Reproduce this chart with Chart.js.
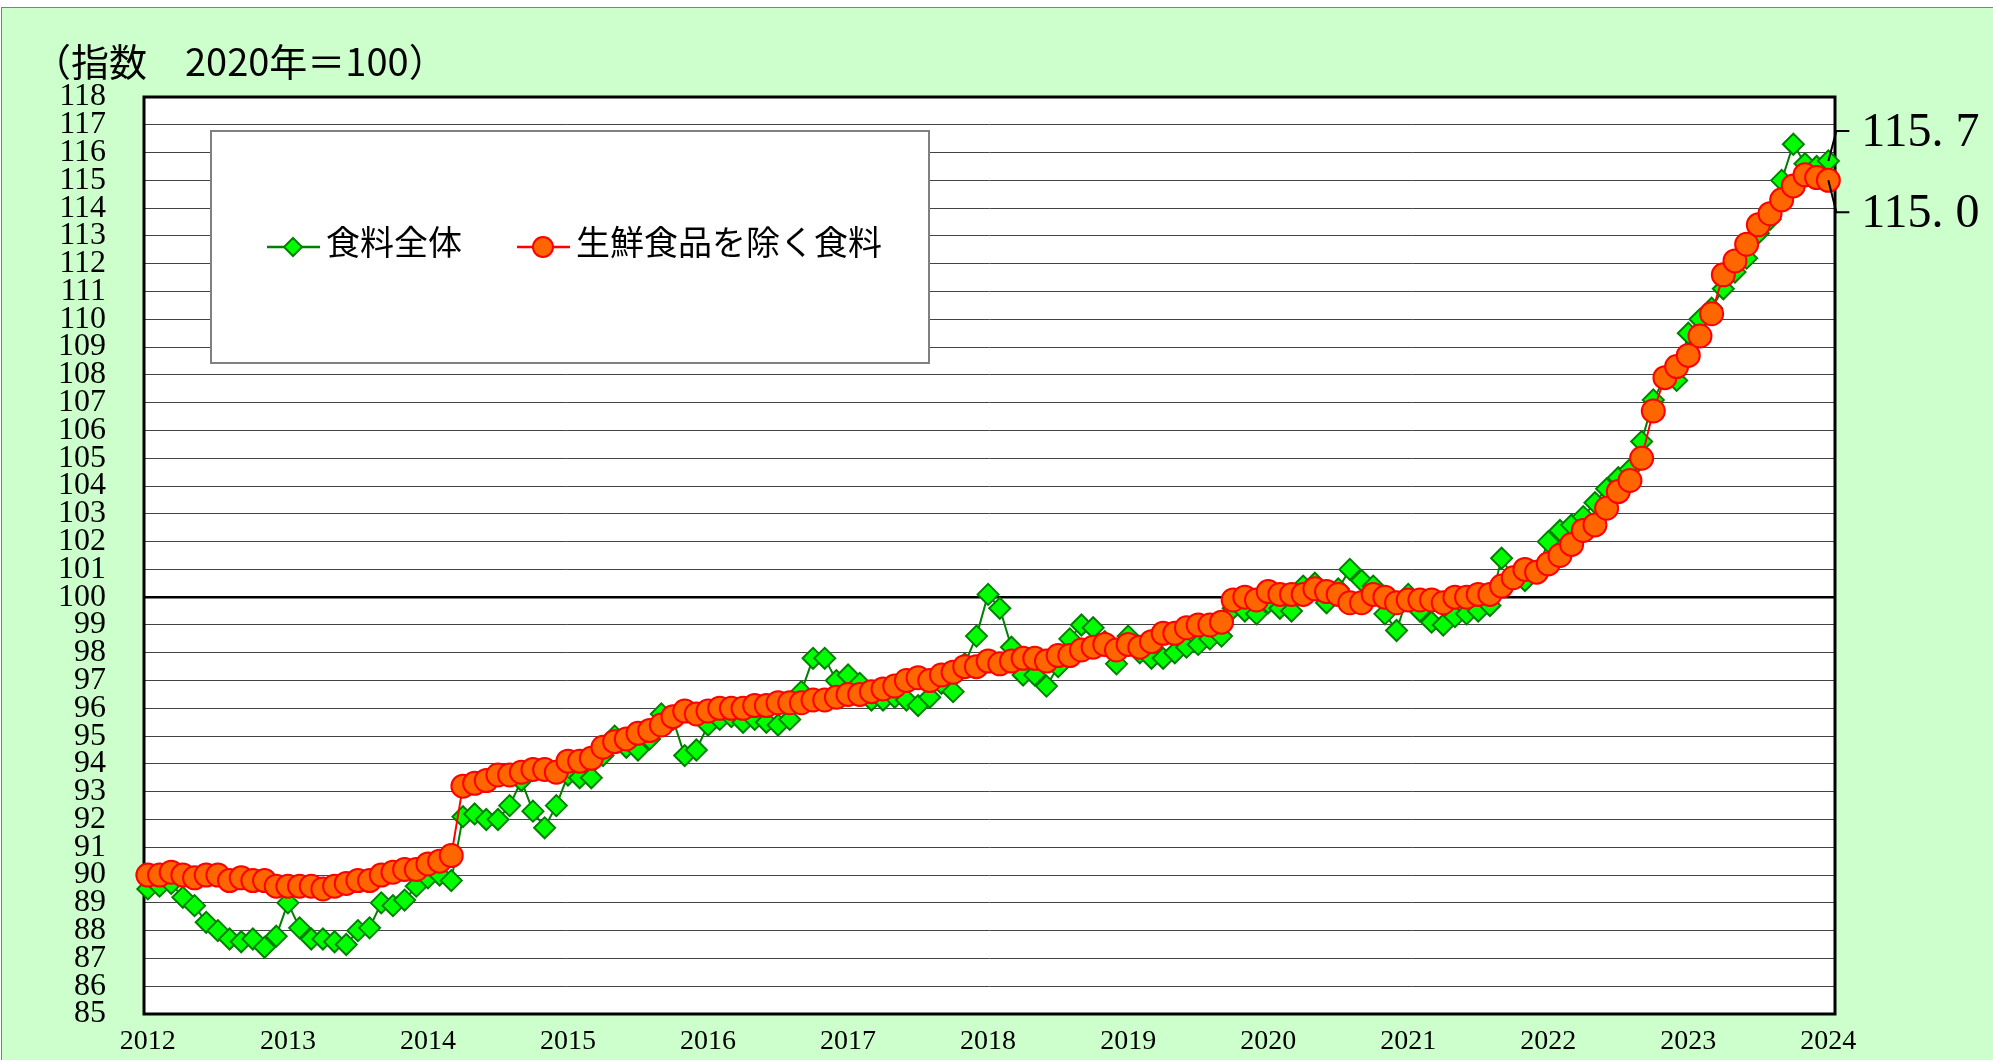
<!DOCTYPE html>
<html>
<head>
<meta charset="utf-8">
<script src="https://cdn.jsdelivr.net/npm/chart.js@4/dist/chart.umd.min.js"></script>
<style>
  html, body { margin: 0; padding: 0; background: #fff; }
  canvas { display: block; }
</style>
</head>
<body>
<canvas id="food" width="1993" height="1060"></canvas>
<script>
// 消費者物価指数（食料） 2020年=100, 月次 2012/01〜2024/01
const years = ['2012', '2013', '2014', '2015', '2016', '2017', '2018', '2019', '2020', '2021', '2022', '2023', '2024'];
const monthNames = ['01', '02', '03', '04', '05', '06', '07', '08', '09', '10', '11', '12'];

// 食料全体
const foodAll = [
  89.5, 89.6, 89.7, 89.2, 88.9, 88.3, 88.0, 87.7, 87.6, 87.7, 87.4, 87.8,
  89.0, 88.1, 87.7, 87.7, 87.6, 87.5, 88.0, 88.1, 89.0, 88.9, 89.1, 89.6,
  89.9, 90.0, 89.8, 92.1, 92.2, 92.0, 92.0, 92.5, 93.4, 92.3, 91.7, 92.5,
  93.6, 93.5, 93.5, 94.3, 95.0, 94.6, 94.5, 94.9, 95.8, 95.6, 94.3, 94.5,
  95.4, 95.6, 95.7, 95.5, 95.6, 95.5, 95.4, 95.6, 96.6, 97.8, 97.8, 97.0,
  97.2, 96.9, 96.3, 96.3, 96.4, 96.3, 96.1, 96.4, 96.9, 96.6, 97.6, 98.6,
  100.1, 99.6, 98.2, 97.2, 97.2, 96.8, 97.5, 98.5, 99.0, 98.9, 98.4, 97.6,
  98.6, 98.0, 97.8, 97.8, 98.0, 98.2, 98.3, 98.5, 98.6, 99.6, 99.5, 99.4,
  99.8, 99.6, 99.5, 100.4, 100.5, 99.8, 100.3, 101.0, 100.6, 100.4, 99.4, 98.8,
  100.1, 99.5, 99.1, 99.0, 99.3, 99.4, 99.5, 99.7, 101.4, 100.7, 100.6, 100.9,
  102.0, 102.4, 102.6, 102.9, 103.4, 103.9, 104.3, 104.6, 105.6, 107.1, 107.9, 107.8,
  109.5, 110.0, 110.4, 111.1, 111.7, 112.2, 113.1, 113.6, 115.0, 116.3, 115.6, 115.5,
  115.7
];

// 生鮮食品を除く食料
const foodExFresh = [
  90.0, 90.0, 90.1, 90.0, 89.9, 90.0, 90.0, 89.8, 89.9, 89.8, 89.8, 89.6,
  89.6, 89.6, 89.6, 89.5, 89.6, 89.7, 89.8, 89.8, 90.0, 90.1, 90.2, 90.2,
  90.4, 90.5, 90.7, 93.2, 93.3, 93.4, 93.6, 93.6, 93.7, 93.8, 93.8, 93.7,
  94.1, 94.1, 94.2, 94.6, 94.8, 94.9, 95.1, 95.2, 95.4, 95.7, 95.9, 95.8,
  95.9, 96.0, 96.0, 96.0, 96.1, 96.1, 96.2, 96.2, 96.2, 96.3, 96.3, 96.4,
  96.5, 96.5, 96.6, 96.7, 96.8, 97.0, 97.1, 97.0, 97.2, 97.3, 97.5, 97.5,
  97.7, 97.6, 97.7, 97.8, 97.8, 97.7, 97.9, 97.9, 98.1, 98.2, 98.3, 98.1,
  98.3, 98.2, 98.4, 98.7, 98.7, 98.9, 99.0, 99.0, 99.1, 99.9, 100.0, 99.9,
  100.2, 100.1, 100.1, 100.1, 100.3, 100.2, 100.1, 99.8, 99.8, 100.1, 100.0, 99.8,
  99.9, 99.9, 99.9, 99.8, 100.0, 100.0, 100.1, 100.1, 100.4, 100.7, 101.0, 100.9,
  101.2, 101.5, 101.9, 102.4, 102.6, 103.2, 103.8, 104.2, 105.0, 106.7, 107.9, 108.3,
  108.7, 109.4, 110.2, 111.6, 112.1, 112.7, 113.4, 113.8, 114.3, 114.8, 115.2, 115.1,
  115.0
];

const months = years.flatMap(y => monthNames.map(m => `${y}/${m}`)).slice(0, foodAll.length);

const titleText = '（指数　2020年＝100）';
const serif = 'Liberation Serif, Times New Roman, serif';
const jp = '"Noto Sans CJK JP", "Noto Sans", sans-serif';

(function(){

    const toPoints = arr => arr.map((v, i) => ({ x: i, y: v }));

    const decor = {
        id: 'decor',

        beforeDraw(chart) {
            const { ctx, chartArea: a, width, height } = chart;
            ctx.save();
            ctx.fillStyle = '#fff';
            ctx.fillRect(0, 0, width, height);
            ctx.fillStyle = '#CCFFCC';
            ctx.fillRect(1, 7, width - 1, height - 7);
            ctx.strokeStyle = '#808080';
            ctx.lineWidth = 1;
            ctx.strokeRect(1.5, 7.5, width, height);
            ctx.fillStyle = '#fff';
            ctx.fillRect(a.left, a.top, a.right - a.left, a.bottom - a.top);

            ctx.fillStyle = '#000';
            ctx.font = `38px ${jp}`;
            ctx.textBaseline = 'alphabetic';
            ctx.textAlign = 'left';
            ctx.fillText(titleText, 33, 76);
            ctx.restore();
        },

        beforeDatasetsDraw(chart) {
            const { ctx, chartArea: a } = chart;
            ctx.save();

            // legend box
            const box = { x: 211, y: 131, w: 718, h: 232 };
            ctx.fillStyle = '#fff';
            ctx.fillRect(box.x, box.y, box.w, box.h);
            ctx.strokeStyle = '#808080';
            ctx.lineWidth = 2;
            ctx.strokeRect(box.x, box.y, box.w, box.h);

            const items = [
                { ds: chart.data.datasets[0], x: 267 },
                { ds: chart.data.datasets[1], x: 517 }
            ];
            const ly = 247;
            items.forEach(({ ds, x }) => {
                ctx.strokeStyle = ds.borderColor;
                ctx.lineWidth = 2.5;
                ctx.beginPath();
                ctx.moveTo(x, ly);
                ctx.lineTo(x + 53, ly);
                ctx.stroke();
                ctx.fillStyle = ds.pointBackgroundColor;
                ctx.strokeStyle = ds.pointBorderColor;
                ctx.lineWidth = 2;
                Chart.helpers.drawPoint(ctx, {
                    pointStyle: ds.pointStyle,
                    radius: ds.pointStyle === 'circle' ? 10 : 9,
                    rotation: 0,
                    borderWidth: 2
                }, x + 26, ly);
                ctx.fillStyle = '#000';
                ctx.font = `34px ${jp}`;
                ctx.textBaseline = 'middle';
                ctx.textAlign = 'left';
                ctx.fillText(ds.label, x + 59, ly - 5);
            });

            // plot frame
            ctx.strokeStyle = '#000';
            ctx.lineWidth = 3;
            ctx.strokeRect(a.left, a.top, a.right - a.left, a.bottom - a.top);
            ctx.restore();
        },

        afterDatasetsDraw(chart) {
            const { ctx } = chart;
            const callouts = [
                { index: 0, dy: -30 },
                { index: 1, dy: 32 }
            ];
            ctx.save();
            callouts.forEach(({ index, dy }) => {
                const ds = chart.data.datasets[index];
                const meta = chart.getDatasetMeta(index);
                const last = meta.data[meta.data.length - 1];
                const value = ds.data[ds.data.length - 1].y;
                const ty = last.y + dy;
                ctx.strokeStyle = '#000';
                ctx.lineWidth = 2;
                ctx.beginPath();
                ctx.moveTo(last.x, last.y);
                ctx.lineTo(last.x + 8, ty);
                ctx.lineTo(last.x + 21, ty);
                ctx.stroke();
                const [ip, dp] = value.toFixed(1).split('.');
                ctx.fillStyle = '#000';
                ctx.font = `48px ${serif}`;
                ctx.textBaseline = 'middle';
                ctx.textAlign = 'left';
                ctx.fillText(`${ip}. ${dp}`, last.x + 33, ty + 2);
            });
            ctx.restore();
        }
    };

    new Chart(document.getElementById('food'), {
        type: 'line',
        data: {
            labels: months,
            datasets: [
                {
                    label: '食料全体',
                    data: toPoints(foodAll),
                    borderColor: '#008000',
                    borderWidth: 2,
                    pointStyle: 'rectRot',
                    pointRadius: 10.5,
                    pointBackgroundColor: '#00FF00',
                    pointBorderColor: '#008000',
                    pointBorderWidth: 2,
                    tension: 0,
                    clip: false,
                    order: 1
                },
                {
                    label: '生鮮食品を除く食料',
                    data: toPoints(foodExFresh),
                    borderColor: '#FF0000',
                    borderWidth: 2,
                    pointStyle: 'circle',
                    pointRadius: 11.5,
                    pointBackgroundColor: '#FF6600',
                    pointBorderColor: '#FF0000',
                    pointBorderWidth: 2,
                    tension: 0,
                    clip: false,
                    order: 0
                }
            ]
        },
        options: {
            responsive: false,
            animation: false,
            devicePixelRatio: 1,
            layout: { padding: { top: 97, right: 158, bottom: 0, left: 0 } },
            plugins: {
                legend: { display: false },
                tooltip: { enabled: false },
                title: { display: false }
            },
            scales: {
                x: {
                    type: 'linear',
                    min: -0.33,
                    max: 144.57,
                    afterBuildTicks: s => { s.ticks = years.map((y, i) => ({ value: i * 12 })); },
                    afterFit: s => { s.height = 46; s.paddingLeft = 0; s.paddingRight = 0; },
                    ticks: {
                        callback: v => years[Math.round(v / 12)],
                        font: { family: serif, size: 28 },
                        color: '#000',
                        padding: 3,
                        maxRotation: 0,
                        autoSkip: false
                    },
                    grid: { display: false },
                    border: { display: false }
                },
                y: {
                    min: 85,
                    max: 118,
                    afterFit: s => { s.width = 144; s.paddingTop = 0; s.paddingBottom = 0; },
                    ticks: {
                        stepSize: 1,
                        font: { family: serif, size: 32 },
                        color: '#000',
                        padding: 38,
                        autoSkip: false
                    },
                    grid: {
                        color: c => c.tick.value === 100 ? '#000' : '#444',
                        lineWidth: c => c.tick.value === 100 ? 2.5 : 1,
                        drawTicks: false
                    },
                    border: { display: false }
                }
            }
        },
        plugins: [decor]
    });
})();
</script>
</body>
</html>
